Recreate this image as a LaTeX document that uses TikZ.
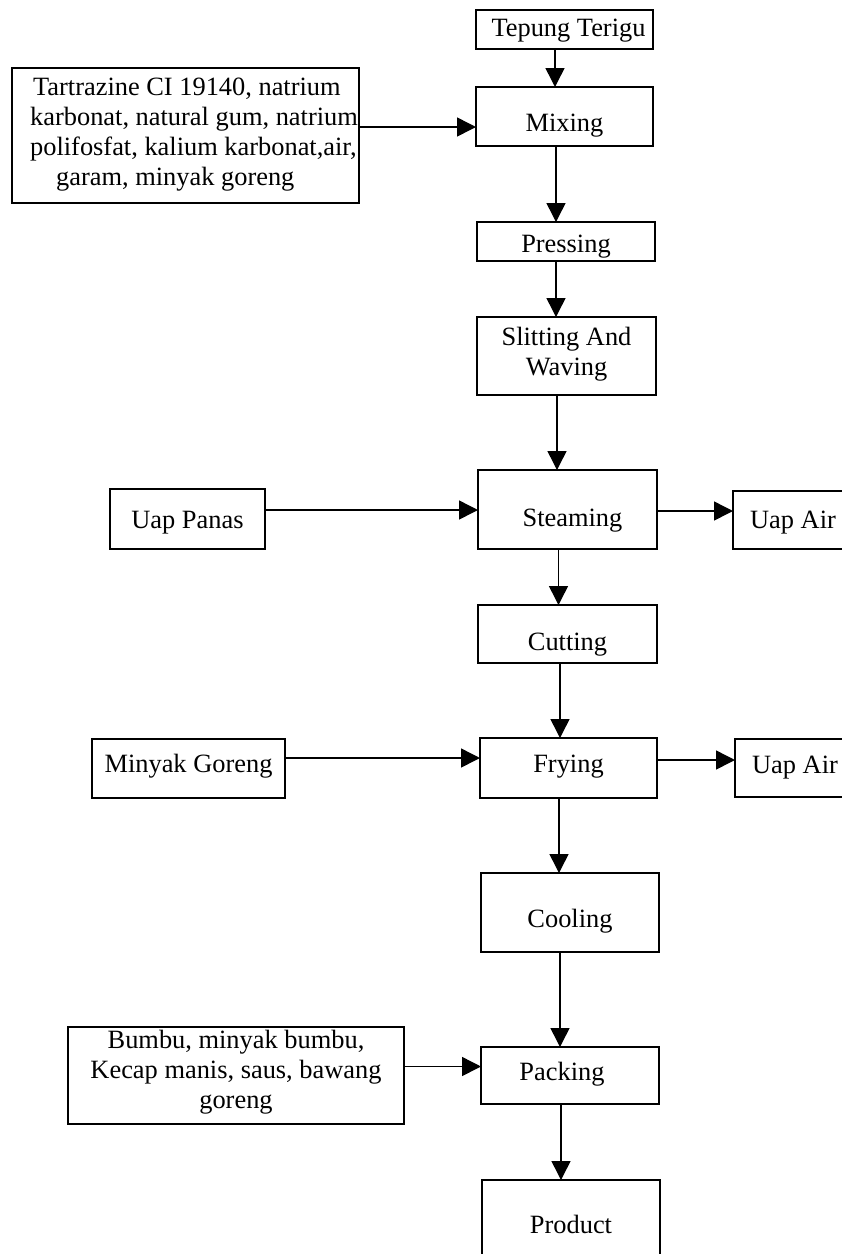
\documentclass[tikz,border=0pt]{standalone}
\usepackage{fontspec}
\setmainfont{Liberation Serif}
\usetikzlibrary{arrows.meta}
\newcommand\lowtxt[2]{\raisebox{#1}[0pt][0pt]{#2}}
\begin{document}
\begin{tikzpicture}[x=1pt,y=-1pt,
  box/.style={draw, line width=1.5pt, inner sep=0pt, outer sep=0pt, font=\fontsize{26.4}{30}\selectfont},
  arr/.style={line width=1.5pt, -{Triangle[length=19pt,width=19pt]}}]
\useasboundingbox (0,0) rectangle (842,1254);
\clip (0,0) rectangle (842,1254);
\fill[white] (0,0) rectangle (842,1254);
% main column
\node[box, minimum width=177pt, minimum height=39pt] (tep) at (564.5,29.5) {\lowtxt{-7pt}{\hspace*{8pt}Tepung Terigu}};
\node[box, minimum width=177pt, minimum height=59pt] (mix) at (564.5,116.5) {\lowtxt{-14.5pt}{Mixing}};
\node[box, minimum width=178pt, minimum height=39pt] (press) at (566,241.5) {\lowtxt{-10.5pt}{Pressing}};
\node[box, minimum width=179pt, minimum height=78pt] (slit) at (566.5,356) {\lowtxt{11pt}{\begin{tabular}[t]{@{}c@{}}Slitting And\\Waving\end{tabular}}};
\node[box, minimum width=179pt, minimum height=79pt] (steam) at (567.5,509.5) {\lowtxt{-17pt}{\hspace*{10pt}Steaming}};
\node[box, minimum width=179pt, minimum height=58pt] (cut) at (567.5,634) {\lowtxt{-16pt}{Cutting}};
\node[box, minimum width=177pt, minimum height=60pt] (fry) at (568.5,768) {\lowtxt{-4.5pt}{Frying}};
\node[box, minimum width=178pt, minimum height=79pt] (cool) at (570,912.5) {\lowtxt{-14.5pt}{Cooling}};
\node[box, minimum width=178pt, minimum height=57pt] (pack) at (570,1075.5) {\lowtxt{-5pt}{\hspace*{-16pt}Packing}};
\node[box, minimum width=178pt, minimum height=79pt] (prod) at (571,1219.5) {\lowtxt{-13.5pt}{Product}};
% side inputs
\node[box, minimum width=347pt, minimum height=135pt] (tar) at (185.5,135.5) {\lowtxt{40.5pt}{\hspace*{17pt}\begin{tabular}[t]{@{}l@{}}\hspace*{3pt}Tartrazine CI 19140, natrium\\karbonat, natural gum, natrium\\polifosfat, kalium karbonat,air,\\\hspace*{26pt}garam, minyak goreng\end{tabular}}};
\node[box, minimum width=155pt, minimum height=60pt] (panas) at (187.5,519) {\lowtxt{-9pt}{Uap Panas}};
\node[box, minimum width=193pt, minimum height=59pt] (minyak) at (188.5,768.5) {\lowtxt{-4pt}{Minyak Goreng}};
\node[box, minimum width=336pt, minimum height=97pt] (bumbu) at (236,1075.5) {\lowtxt{27.5pt}{\begin{tabular}[t]{@{}c@{}}Bumbu, minyak bumbu,\\Kecap manis, saus, bawang\\goreng\end{tabular}}};
% outputs
\node[box, minimum width=120pt, minimum height=58pt] (air1) at (793,520) {\lowtxt{-8pt}{Uap Air}};
\node[box, minimum width=120pt, minimum height=58pt] (air2) at (795,768) {\lowtxt{-5pt}{Uap Air}};
% vertical arrows
\draw[arr] ([xshift=-9.5pt]tep.south) -- ([xshift=-9.5pt]tep.south |- mix.north);
\draw[arr] ([xshift=-8.5pt]mix.south) -- ([xshift=-8.5pt]mix.south |- press.north);
\draw[arr] ([xshift=-10pt]press.south) -- ([xshift=-10pt]press.south |- slit.north);
\draw[arr] ([xshift=-9.5pt]slit.south) -- ([xshift=-9.5pt]slit.south |- steam.north);
\draw[arr] ([xshift=-9pt]steam.south) -- ([xshift=-9pt]steam.south |- cut.north);
\draw[arr] ([xshift=-7.5pt]cut.south) -- ([xshift=-7.5pt]cut.south |- fry.north);
\draw[arr] ([xshift=-9.5pt]fry.south) -- ([xshift=-9.5pt]fry.south |- cool.north);
\draw[arr] ([xshift=-10pt]cool.south) -- ([xshift=-10pt]cool.south |- pack.north);
\draw[arr] ([xshift=-9pt]pack.south) -- ([xshift=-9pt]pack.south |- prod.north);
% horizontal arrows
\draw[arr] ([yshift=8.5pt]tar.east) -- ([yshift=8.5pt]tar.east -| mix.west);
\draw[arr] ([yshift=9pt]panas.east) -- ([yshift=9pt]panas.east -| steam.west);
\draw[arr] ([yshift=-1.5pt]steam.east) -- ([yshift=-1.5pt]steam.east -| air1.west);
\draw[arr] ([yshift=10.5pt]minyak.east) -- ([yshift=10.5pt]minyak.east -| fry.west);
\draw[arr] ([yshift=8pt]fry.east) -- ([yshift=8pt]fry.east -| air2.west);
\draw[arr] ([yshift=9pt]bumbu.east) -- ([yshift=9pt]bumbu.east -| pack.west);
\end{tikzpicture}
\end{document}
